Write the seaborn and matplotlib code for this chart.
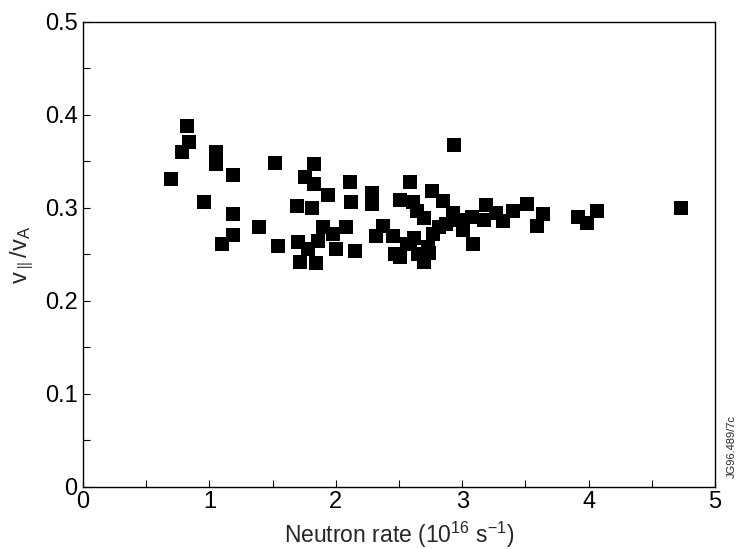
import matplotlib
matplotlib.use('Agg')
import matplotlib.pyplot as plt
from matplotlib.ticker import MultipleLocator
import seaborn as sns
import pandas as pd

# neutron rate (10^16 s^-1) and v_par / v_A
neutron_rate = [0.70, 0.785, 0.82, 0.84, 0.96, 1.05, 1.05, 1.10, 1.19, 1.19,
                1.19, 1.39, 1.52, 1.54, 1.69, 1.70, 1.715, 1.76, 1.78, 1.81,
                1.83, 1.83, 1.84, 1.86, 1.895, 1.94, 1.98, 2.005, 2.08, 2.11,
                2.12, 2.15, 2.29, 2.29, 2.32, 2.37, 2.45, 2.47, 2.51, 2.51,
                2.56, 2.585, 2.585, 2.61, 2.62, 2.64, 2.65, 2.70, 2.70, 2.73,
                2.74, 2.76, 2.77, 2.82, 2.85, 2.87, 2.93, 2.935, 2.98, 3.01,
                3.08, 3.085, 3.17, 3.19, 3.27, 3.32, 3.40, 3.51, 3.59, 3.64,
                3.915, 3.99, 4.07, 4.73]
v_ratio = [0.331, 0.360, 0.388, 0.371, 0.306, 0.360, 0.347, 0.261, 0.335, 0.293,
           0.271, 0.279, 0.348, 0.259, 0.302, 0.263, 0.242, 0.333, 0.256, 0.300,
           0.347, 0.326, 0.241, 0.265, 0.279, 0.314, 0.272, 0.256, 0.280, 0.328,
           0.306, 0.254, 0.316, 0.304, 0.270, 0.281, 0.270, 0.251, 0.309, 0.247,
           0.261, 0.328, 0.261, 0.306, 0.268, 0.297, 0.251, 0.289, 0.242, 0.258,
           0.252, 0.318, 0.272, 0.279, 0.307, 0.283, 0.295, 0.368, 0.287, 0.276,
           0.290, 0.261, 0.287, 0.303, 0.295, 0.286, 0.297, 0.304, 0.281, 0.294,
           0.290, 0.284, 0.297, 0.300]
x_ticks = [0, 1, 2, 3, 4, 5]
y_ticks = [0, 0.1, 0.2, 0.3, 0.4, 0.5]
y_tick_labels = ['0', '0.1', '0.2', '0.3', '0.4', '0.5']

df = pd.DataFrame({'rate': neutron_rate, 'v': v_ratio})

sns.set_style('ticks')
plt.rcParams['font.family'] = ['Liberation Sans', 'DejaVu Sans']
plt.rcParams['mathtext.fontset'] = 'custom'
plt.rcParams['mathtext.rm'] = 'Liberation Sans'
plt.rcParams['mathtext.it'] = 'Liberation Sans'

fig = plt.figure(figsize=(7.37, 5.49), dpi=100)
ax = fig.add_axes([0.1126, 0.113, 0.8575, 0.847])

sns.scatterplot(data=df, x='rate', y='v', marker='s', color='black',
                s=95, linewidth=0, ax=ax)

ax.set_xlim(0, 5)
ax.set_ylim(0, 0.5)
ax.set_xticks(x_ticks)
ax.set_xticklabels([str(t) for t in x_ticks])
ax.xaxis.set_minor_locator(MultipleLocator(0.5))
ax.set_yticks(y_ticks)
ax.set_yticklabels(y_tick_labels)
ax.yaxis.set_minor_locator(MultipleLocator(0.05))
ax.tick_params(which='both', direction='in', length=5, width=0.8,
               labelsize=17, colors='black')
ax.tick_params(axis='y', pad=4)
ax.tick_params(axis='x', pad=3)

for sp in ax.spines.values():
    sp.set_visible(True)
    sp.set_linewidth(1.0)
    sp.set_color('black')

ax.set_xlabel(r'Neutron rate (10$^{16}$ s$^{-1}$)', fontsize=16.5, labelpad=5)
ax.set_ylabel(r'v$_{\parallel}$/v$_\mathrm{A}$', fontsize=17, labelpad=6)

fig.text(0.993, 0.13, 'JG96.489/7c', rotation=90,
         fontsize=8, ha='center', va='bottom')

fig.savefig('out.png', dpi=100)
